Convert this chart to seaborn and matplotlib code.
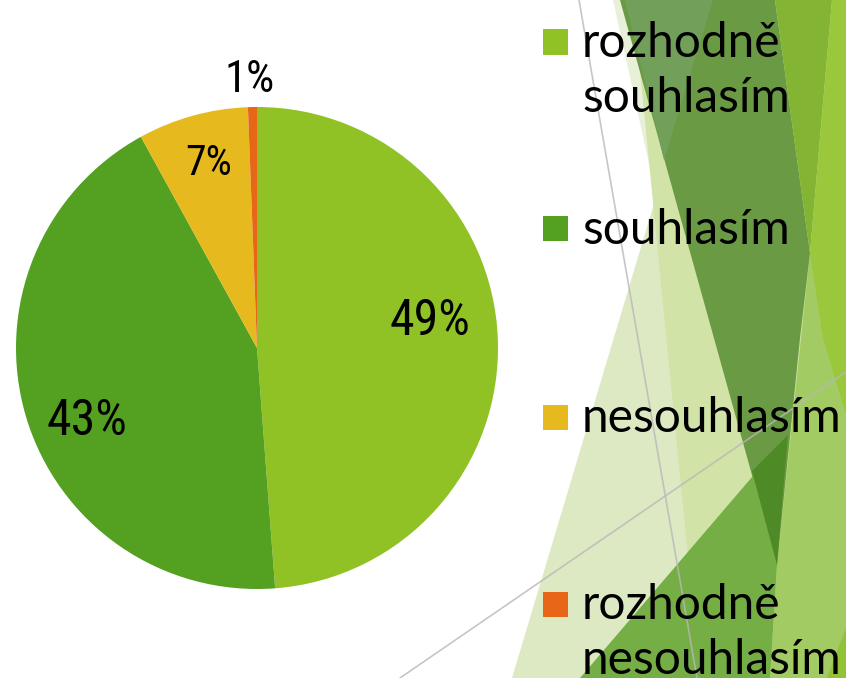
import matplotlib
matplotlib.use("Agg")
import matplotlib.pyplot as plt
from matplotlib import font_manager as fm
from matplotlib.patches import Polygon, Rectangle
from matplotlib.lines import Line2D
import numpy as np
import seaborn as sns

# ---- data ----
categories = ["rozhodně\nsouhlasím", "souhlasím", "nesouhlasím", "rozhodně\nnesouhlasím"]
shares = [48.8, 43.2, 7.4, 0.6]
slice_colors = ["#90C226", "#54A021", "#E6B91E", "#E76618"]

sns.set_theme(style="white")
plt.rcParams["font.family"] = ["Lato", "DejaVu Sans"]

# pick a narrow face for the percentage labels if one is installed
narrow_family, narrow_stretch = None, "normal"
for f in fm.fontManager.ttflist:
    if f.name in ("Liberation Sans Narrow", "Roboto Condensed", "Open Sans Condensed"):
        narrow_family = f.name
        break
if narrow_family is None:
    for f in fm.fontManager.ttflist:
        st = str(f.stretch).lower()
        if f.name in ("DejaVu Sans", "Noto Sans", "Open Sans", "Roboto") and (
                "condensed" in st or st in ("300", "400")) and f.weight in (400, "normal"):
            narrow_family, narrow_stretch = f.name, "condensed"
            break

W, H = 846, 678
fig = plt.figure(figsize=(W / 100, H / 100), dpi=100)
fig.patch.set_facecolor("white")


def fp(pts):
    return [(x / W, 1 - y / H) for x, y in pts]


def poly(pts, color, z=0.1):
    fig.add_artist(Polygon(fp(pts), closed=True, facecolor=color, edgecolor="none",
                           transform=fig.transFigure, zorder=z))


# ---- decorative theme background (Facet-like) ----
poly([(512, 678), (715, 0), (846, 0), (846, 678)], "#dde9c3")
poly([(613, 0), (700, 0), (657, 200)], "#e8f0da")
poly([(633, 0), (846, 0), (846, 678), (700, 678)], "#d1e3a6")
poly([(777, 565), (810, 253), (846, 253), (846, 678), (770, 678)], "#a3cb63")
poly([(620, 0), (775, 0), (810, 253), (800, 338), (777, 565)], "#6a9a43")
poly([(625, 0), (713, 0), (664, 160)], "#72a05a")
poly([(775, 0), (832, 0), (810, 253)], "#84b433")
poly([(832, 0), (846, 0), (846, 415), (823, 338), (810, 253)], "#9bc73c")
poly([(846, 628), (846, 678), (827, 678)], "#92c236")
poly([(580, 678), (788, 435), (777, 565), (770, 678)], "#74ae45")
poly([(752, 471), (788, 435), (777, 565)], "#4e8a25")

for (x1, y1), (x2, y2) in [((579, 0), (697, 678)), ((400, 678), (846, 372))]:
    fig.add_artist(Line2D([x1 / W, x2 / W], [1 - y1 / H, 1 - y2 / H], color="#b8b8b8",
                          lw=1.2, alpha=0.8, transform=fig.transFigure, zorder=0.5))

# ---- pie ----
cx, cy, r = 257, 348, 241
ax = fig.add_axes([(cx - r) / W, 1 - (cy + r) / H, 2 * r / W, 2 * r / H])
ax.patch.set_visible(False)
palette = sns.color_palette(slice_colors)
wedges, _ = ax.pie(shares, colors=palette, startangle=90, counterclock=False,
                   radius=1, wedgeprops=dict(linewidth=0))
ax.set_xlim(-1, 1)
ax.set_ylim(-1, 1)
ax.set_aspect("equal")
ax.axis("off")

label_dist = [0.73, 0.76, 0.81, 1.13]
label_nudge = [8.3, 5.2, -1.0, 0.4]
if narrow_family:
    label_size = [36, 36, 30, 32]
    label_font = [narrow_family, "Lato", "DejaVu Sans"]
else:
    label_size = [32, 32, 27, 28.5]
    label_font = ["Lato", "DejaVu Sans"]
for w, v, d, n, s in zip(wedges, shares, label_dist, label_nudge, label_size):
    ang = np.deg2rad((w.theta1 + w.theta2) / 2 + n)
    ax.text(d * np.cos(ang), d * np.sin(ang), f"{round(v):.0f}%", ha="center",
            va="center_baseline", fontsize=s, color="black", family=label_font,
            fontstretch=narrow_stretch)

# ---- legend ----
marker_cy = [42, 229, 417, 604]
line_step = 55
for lab, col, my in zip(categories, palette, marker_cy):
    fig.add_artist(Rectangle((543 / W, 1 - (my + 12.5) / H), 25 / W, 25 / H,
                             facecolor=col, edgecolor="none", transform=fig.transFigure, zorder=2))
    last_baseline = my + 15 + line_step * lab.count("\n")
    fig.text(582 / W, 1 - last_baseline / H, lab, ha="left", va="baseline", fontsize=34.5,
             color="black", linespacing=1.315, zorder=3)

fig.savefig("out.png", dpi=100)
